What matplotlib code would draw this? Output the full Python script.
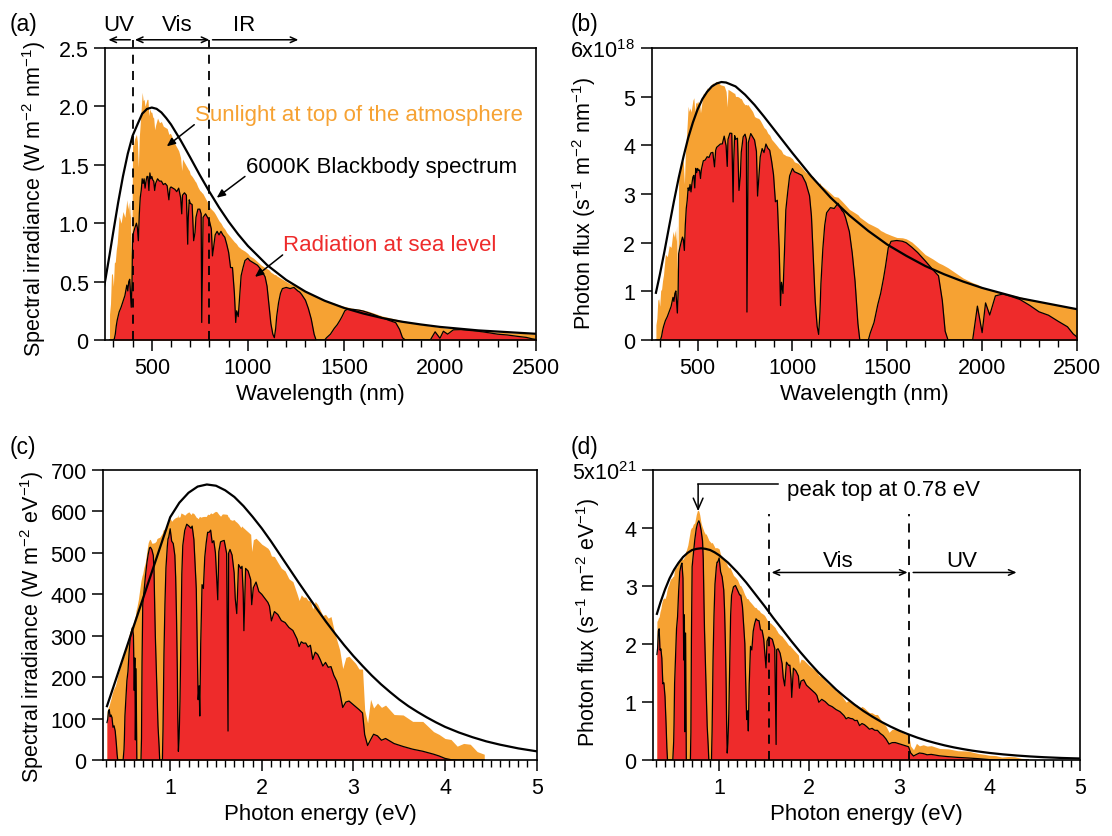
import numpy as np
import matplotlib.pyplot as plt
from matplotlib.ticker import MultipleLocator

plt.rcParams['font.family'] = ['Liberation Sans', 'DejaVu Sans']
plt.rcParams['mathtext.fontset'] = 'custom'
plt.rcParams['mathtext.rm'] = 'Liberation Sans'
plt.rcParams['mathtext.it'] = 'Liberation Sans:italic'
plt.rcParams['axes.linewidth'] = 1.2

ORANGE = '#F6A233'
RED = '#EE2B2B'

# solar spectra, W m-2 nm-1
wl_nm = [
    280, 285, 290, 295, 300, 305, 310, 315, 320, 330,
    340, 350, 360, 370, 375, 380, 385, 389, 393, 397,
    400, 405, 410, 420, 425, 430, 435, 440, 445, 450,
    455, 460, 465, 470, 475, 480, 485, 490, 495, 500,
    505, 510, 515, 520, 530, 540, 550, 560, 570, 580,
    589, 595, 600, 610, 620, 630, 640, 650, 656, 660,
    670, 680, 687, 690, 695, 700, 710, 718, 725, 730,
    740, 750, 757, 760, 763, 767, 780, 790, 800, 810,
    816, 822, 830, 840, 850, 860, 870, 880, 890, 900,
    910, 920, 930, 937, 942, 950, 958, 965, 975, 985,
    1000, 1010, 1030, 1050, 1070, 1090, 1100, 1110, 1120, 1130,
    1138, 1145, 1150, 1160, 1170, 1180, 1200, 1220, 1240, 1260,
    1270, 1280, 1300, 1315, 1330, 1345, 1355, 1400, 1410, 1430,
    1450, 1465, 1480, 1490, 1505, 1520, 1550, 1580, 1600, 1630,
    1660, 1700, 1740, 1770, 1790, 1805, 1820, 1900, 1950, 1975,
    2000, 2018, 2040, 2070, 2110, 2150, 2200, 2250, 2300, 2350,
    2400, 2450, 2480, 2500, 2550, 2600, 2700, 2800, 2900, 2950,
    3000, 3100, 3200, 3300, 3400, 3500, 3600, 3700, 3800, 3900,
    4000]

# top of the atmosphere (orange)
am0 = [
    0.22, 0.31, 0.56, 0.57, 0.46, 0.66, 0.67, 0.77, 0.83, 1.06,
    1.00, 1.10, 1.05, 1.20, 1.12, 1.18, 1.05, 1.20, 0.72, 0.95,
    1.70, 1.66, 1.72, 1.76, 1.70, 1.48, 1.74, 1.86, 1.98, 2.12,
    2.05, 2.06, 2.00, 2.03, 2.06, 2.06, 1.92, 1.98, 1.95, 1.95,
    1.91, 1.90, 1.80, 1.84, 1.90, 1.86, 1.87, 1.83, 1.82, 1.81,
    1.76, 1.77, 1.76, 1.72, 1.68, 1.65, 1.62, 1.56, 1.45, 1.55,
    1.52, 1.49, 1.47, 1.46, 1.45, 1.42, 1.40, 1.38, 1.36, 1.35,
    1.31, 1.28, 1.27, 1.26, 1.26, 1.25, 1.21, 1.18, 1.14, 1.12,
    1.11, 1.10, 1.08, 1.05, 1.02, 1.00, 0.97, 0.95, 0.92, 0.90,
    0.88, 0.86, 0.84, 0.83, 0.82, 0.80, 0.79, 0.78, 0.77, 0.76,
    0.74, 0.72, 0.70, 0.67, 0.64, 0.62, 0.61, 0.60, 0.58, 0.57,
    0.56, 0.56, 0.55, 0.54, 0.53, 0.52, 0.50, 0.48, 0.47, 0.45,
    0.44, 0.43, 0.41, 0.40, 0.39, 0.38, 0.37, 0.34, 0.335, 0.325,
    0.315, 0.305, 0.298, 0.293, 0.287, 0.281, 0.270, 0.264, 0.258, 0.245,
    0.228, 0.205, 0.190, 0.178, 0.172, 0.167, 0.162, 0.133, 0.120, 0.115,
    0.108, 0.105, 0.101, 0.096, 0.091, 0.086, 0.080, 0.074, 0.068, 0.063,
    0.059, 0.055, 0.052, 0.050, 0.047, 0.044, 0.039, 0.034, 0.030, 0.028,
    0.026, 0.023, 0.021, 0.019, 0.017, 0.015, 0.0135, 0.012, 0.011, 0.010,
    0.0092]

# sea level (red)
am15 = [
    0, 0, 0, 0, 0, 0.01, 0.05, 0.12, 0.17, 0.24,
    0.28, 0.33, 0.38, 0.47, 0.42, 0.50, 0.52, 0.40, 0.28, 0.48,
    0.88, 0.92, 0.95, 1.00, 0.96, 0.85, 1.08, 1.22, 1.28, 1.38,
    1.34, 1.38, 1.30, 1.36, 1.40, 1.40, 1.28, 1.43, 1.38, 1.40,
    1.37, 1.36, 1.28, 1.34, 1.38, 1.36, 1.36, 1.33, 1.34, 1.32,
    1.20, 1.30, 1.31, 1.30, 1.29, 1.27, 1.30, 1.22, 1.08, 1.24,
    1.26, 1.24, 0.82, 1.05, 1.20, 1.17, 1.16, 0.85, 0.92, 1.05,
    1.12, 1.12, 1.08, 0.15, 0.55, 1.05, 1.08, 1.05, 1.02, 0.95,
    0.72, 0.80, 0.90, 0.93, 0.90, 0.93, 0.90, 0.88, 0.82, 0.75,
    0.62, 0.62, 0.40, 0.15, 0.25, 0.20, 0.38, 0.55, 0.62, 0.68,
    0.70, 0.68, 0.66, 0.64, 0.60, 0.54, 0.46, 0.30, 0.14, 0.05,
    0.02, 0.10, 0.20, 0.32, 0.40, 0.44, 0.45, 0.44, 0.45, 0.42,
    0.41, 0.39, 0.34, 0.27, 0.18, 0.05, 0, 0, 0.02, 0.05,
    0.10, 0.13, 0.17, 0.20, 0.25, 0.265, 0.262, 0.255, 0.248, 0.232,
    0.215, 0.190, 0.165, 0.148, 0.090, 0.020, 0, 0, 0, 0.070,
    0.015, 0.075, 0.050, 0.087, 0.089, 0.083, 0.075, 0.063, 0.050, 0.043,
    0.032, 0.022, 0.010, 0.005, 0, 0, 0, 0, 0, 0.002,
    0.005, 0.009, 0.010, 0.009, 0.011, 0.011, 0.010, 0.011, 0.010, 0.008,
    0.007]

# blackbody curves
bb_a_wl = [250, 260, 280, 300, 325, 350, 375, 400, 425, 450, 475, 500, 525, 550,
           575, 600, 650, 700, 750, 800, 850, 900, 950, 1000, 1100, 1200, 1300,
           1400, 1500, 1600, 1700, 1800, 1900, 2000, 2200, 2500]
bb_a = [0.443, 0.533, 0.727, 0.930, 1.178, 1.402, 1.595, 1.748, 1.844, 1.937,
        1.978, 1.990, 1.979, 1.948, 1.900, 1.845, 1.710, 1.563, 1.412, 1.269,
        1.135, 1.013, 0.904, 0.806, 0.642, 0.514, 0.414, 0.336, 0.275, 0.227,
        0.188, 0.157, 0.133, 0.112, 0.082, 0.053]

bb_b_wl = [280, 300, 325, 350, 375, 400, 425, 450, 475, 500, 525, 550, 575, 600,
           625, 650, 700, 750, 800, 850, 900, 950, 1000, 1100, 1200, 1300, 1400,
           1500, 1600, 1700, 1800, 1900, 2000, 2200, 2500]
bb_b = [0.97, 1.33, 1.82, 2.34, 2.85, 3.33, 3.76, 4.15, 4.47, 4.74, 4.95, 5.10,
        5.21, 5.27, 5.30, 5.29, 5.21, 5.04, 4.83, 4.59, 4.34, 4.09, 3.84, 3.36,
        2.93, 2.56, 2.24, 1.96, 1.73, 1.52, 1.35, 1.20, 1.07, 0.858, 0.633]

bb_c_ev = [0.31, 1.0, 1.1, 1.2, 1.3, 1.4, 1.5, 1.6, 1.7, 1.8, 1.9, 2.0, 2.1, 2.2,
           2.3, 2.4, 2.5, 2.6, 2.7, 2.8, 2.9, 3.0, 3.1, 3.2, 3.3, 3.4, 3.5, 3.6,
           3.7, 3.8, 3.9, 4.0, 4.15, 4.3, 4.45, 4.6, 4.8, 5.0]
bb_c = [130, 586, 621, 645, 660, 665, 662, 651, 635, 613, 587, 559, 528, 495,
        462, 429, 397, 365, 334, 305, 277, 251, 227, 204, 183, 164, 146, 130,
        116, 103, 91, 80, 66.5, 55, 45, 37, 28, 21]

bb_d_ev = [0.31, 0.35, 0.4, 0.45, 0.5, 0.55, 0.6, 0.65, 0.7, 0.75, 0.8, 0.85, 0.9,
           0.95, 1.0, 1.1, 1.2, 1.3, 1.4, 1.5, 1.6, 1.7, 1.8, 1.9, 2.0, 2.1, 2.2,
           2.3, 2.4, 2.5, 2.6, 2.7, 2.8, 2.9, 3.0, 3.1, 3.2, 3.3, 3.4, 3.5, 3.6,
           3.7, 3.8, 3.9, 4.0, 4.15, 4.3, 4.45, 4.6, 4.8, 5.0]
bb_d = [2.52, 2.72, 2.94, 3.13, 3.28, 3.40, 3.50, 3.57, 3.62, 3.64, 3.65, 3.64,
        3.62, 3.58, 3.53, 3.40, 3.24, 3.06, 2.86, 2.66, 2.45, 2.25, 2.05, 1.86,
        1.68, 1.51, 1.36, 1.21, 1.08, 0.956, 0.845, 0.746, 0.656, 0.576, 0.504,
        0.441, 0.384, 0.334, 0.291, 0.252, 0.218, 0.189, 0.163, 0.141, 0.121,
        0.0966, 0.077, 0.061, 0.048, 0.035, 0.026]

# --- unit conversions of the same spectra ---
HC_EVNM = 1239.84                 # eV nm
PHOT_PER_J_NM = 1e-9 / (6.626e-34 * 2.998e8)

wl = np.array(wl_nm, float)
s0 = np.array(am0)
s15 = np.array(am15)
energy = HC_EVNM / wl
jac = wl ** 2 / HC_EVNM           # d(lambda)/dE
flux0 = s0 * wl * PHOT_PER_J_NM / 1e18
flux15 = s15 * wl * PHOT_PER_J_NM / 1e18

fig = plt.figure(figsize=(11.12, 8.37), dpi=100)
ax_a = fig.add_axes([0.0947, 0.5926, 0.3873, 0.3489])
ax_b = fig.add_axes([0.5861, 0.5926, 0.3824, 0.3489])
ax_c = fig.add_axes([0.0929, 0.0908, 0.3897, 0.3465])
ax_d = fig.add_axes([0.5875, 0.0908, 0.3837, 0.3465])


def draw(ax, x, top, sea, bbx, bby):
    ax.fill_between(x, 0, top, color=ORANGE, lw=0)
    ax.fill_between(x, 0, sea, color=RED, lw=0)
    ax.plot(x, sea, color='black', lw=0.9)
    ax.plot(bbx, bby, color='black', lw=1.6)


def style(ax):
    ax.tick_params(which='major', direction='out', length=8, width=1.1,
                   labelsize=15.5, pad=4)
    ax.tick_params(which='minor', direction='out', length=5, width=1.0)
    ax.tick_params(axis='y', which='minor', left=False)


draw(ax_a, wl, s0, s15, bb_a_wl, bb_a)
draw(ax_b, wl, flux0, flux15, bb_b_wl, bb_b)
draw(ax_c, energy, s0 * jac, s15 * jac, bb_c_ev, bb_c)
draw(ax_d, energy, flux0 * jac / 1e3, flux15 * jac / 1e3, bb_d_ev, bb_d)

for ax in (ax_a, ax_b):
    ax.set_xlim(258, 2500)
    ax.xaxis.set_major_locator(MultipleLocator(500))
    ax.xaxis.set_minor_locator(MultipleLocator(100))
    ax.set_xlabel('Wavelength (nm)', fontsize=16)
    style(ax)

for ax in (ax_c, ax_d):
    ax.set_xlim(0.27, 5.0)
    ax.set_xticks([1, 2, 3, 4, 5])
    ax.xaxis.set_minor_locator(MultipleLocator(0.1))
    ax.set_xlabel('Photon energy (eV)', fontsize=16)
    style(ax)

ax_a.set_ylim(0, 2.5)
ax_a.set_yticks([0, 0.5, 1.0, 1.5, 2.0, 2.5])
ax_a.set_yticklabels(['0', '0.5', '1.0', '1.5', '2.0', '2.5'])
ax_a.set_ylabel('Spectral irradiance (W m$^{-2}$ nm$^{-1}$)', fontsize=15.5)
ax_a.yaxis.set_label_coords(-0.133, 0.486)

ax_b.set_ylim(0, 6)
ax_b.set_yticks(range(7))
ax_b.set_yticklabels(['0', '1', '2', '3', '4', '5', '6x10$^{18}$'])
ax_b.set_ylabel('Photon flux (s$^{-1}$ m$^{-2}$ nm$^{-1}$)', fontsize=15.5)
ax_b.yaxis.set_label_coords(-0.126, 0.469)

ax_c.set_ylim(0, 700)
ax_c.set_yticks(range(0, 701, 100))
ax_c.set_ylabel('Spectral irradiance (W m$^{-2}$ eV$^{-1}$)', fontsize=15.5)
ax_c.yaxis.set_label_coords(-0.132, 0.462)

ax_d.set_ylim(0, 5)
ax_d.set_yticks(range(6))
ax_d.set_yticklabels(['0', '1', '2', '3', '4', '5x10$^{21}$'])
ax_d.set_ylabel('Photon flux (s$^{-1}$ m$^{-2}$ eV$^{-1}$)', fontsize=15.5)
ax_d.yaxis.set_label_coords(-0.120, 0.479)

# panel letters
for label, (x, y) in zip(['(a)', '(b)', '(c)', '(d)'],
                         [(0.009, 0.971), (0.513, 0.971), (0.009, 0.465), (0.513, 0.465)]):
    fig.text(x, y, label, fontsize=16.5, va='center', ha='left')

# --- panel (a) annotations ---
for x0 in (400, 800):
    ax_a.plot([x0, x0], [0, 2.57], color='black', lw=1.3, ls=(0, (5, 4)), clip_on=False)
arr = dict(color='black', lw=1.1, shrinkA=0, shrinkB=0)
ax_a.annotate('', xy=(274, 2.57), xytext=(388, 2.57), annotation_clip=False,
              arrowprops=dict(arrowstyle='->,head_length=0.45,head_width=0.2', **arr))
ax_a.annotate('', xy=(412, 2.57), xytext=(800, 2.57), annotation_clip=False,
              arrowprops=dict(arrowstyle='<->,head_length=0.45,head_width=0.2', **arr))
ax_a.annotate('', xy=(1263, 2.57), xytext=(816, 2.57), annotation_clip=False,
              arrowprops=dict(arrowstyle='->,head_length=0.45,head_width=0.2', **arr))
for txt, x0 in (('UV', 326), ('Vis', 633), ('IR', 979)):
    ax_a.text(x0, 2.70, txt, fontsize=16, ha='center', va='center', clip_on=False)

ax_a.text(726, 1.93, 'Sunlight at top of the atmosphere', color=ORANGE,
          fontsize=16, ha='left', va='center')
ax_a.annotate('', xy=(578, 1.658), xytext=(721, 1.843),
              arrowprops=dict(arrowstyle='-|>,head_length=0.5,head_width=0.22', **arr))
ax_a.text(989, 1.487, '6000K Blackbody spectrum', fontsize=16, ha='left', va='center')
ax_a.annotate('', xy=(838, 1.218), xytext=(985, 1.40),
              arrowprops=dict(arrowstyle='-|>,head_length=0.5,head_width=0.22', **arr))
ax_a.text(1185, 0.819, 'Radiation at sea level', color=RED, fontsize=16,
          ha='left', va='center')
ax_a.annotate('', xy=(1037, 0.54), xytext=(1181, 0.728),
              arrowprops=dict(arrowstyle='-|>,head_length=0.5,head_width=0.22', **arr))

# --- panel (d) annotations ---
for x0 in (1.55, 3.10):
    ax_d.plot([x0, x0], [0, 4.24], color='black', lw=1.3, ls=(0, (5, 4)))
ax_d.plot([1.651, 0.767], [4.754, 4.754], color='black', lw=1.1)
ax_d.annotate('', xy=(0.767, 4.29), xytext=(0.767, 4.754),
              arrowprops=dict(arrowstyle='->,head_length=0.8,head_width=0.35', **arr))
ax_d.text(1.747, 4.655, 'peak top at 0.78 eV', fontsize=16, ha='left', va='center')
ax_d.annotate('', xy=(1.581, 3.233), xytext=(3.089, 3.233),
              arrowprops=dict(arrowstyle='<->,head_length=0.45,head_width=0.2', **arr))
ax_d.annotate('', xy=(4.297, 3.233), xytext=(3.151, 3.233),
              arrowprops=dict(arrowstyle='->,head_length=0.45,head_width=0.2', **arr))
ax_d.text(2.317, 3.448, 'Vis', fontsize=16, ha='center', va='center')
ax_d.text(3.687, 3.448, 'UV', fontsize=16, ha='center', va='center')

fig.savefig('out.png', dpi=100)
